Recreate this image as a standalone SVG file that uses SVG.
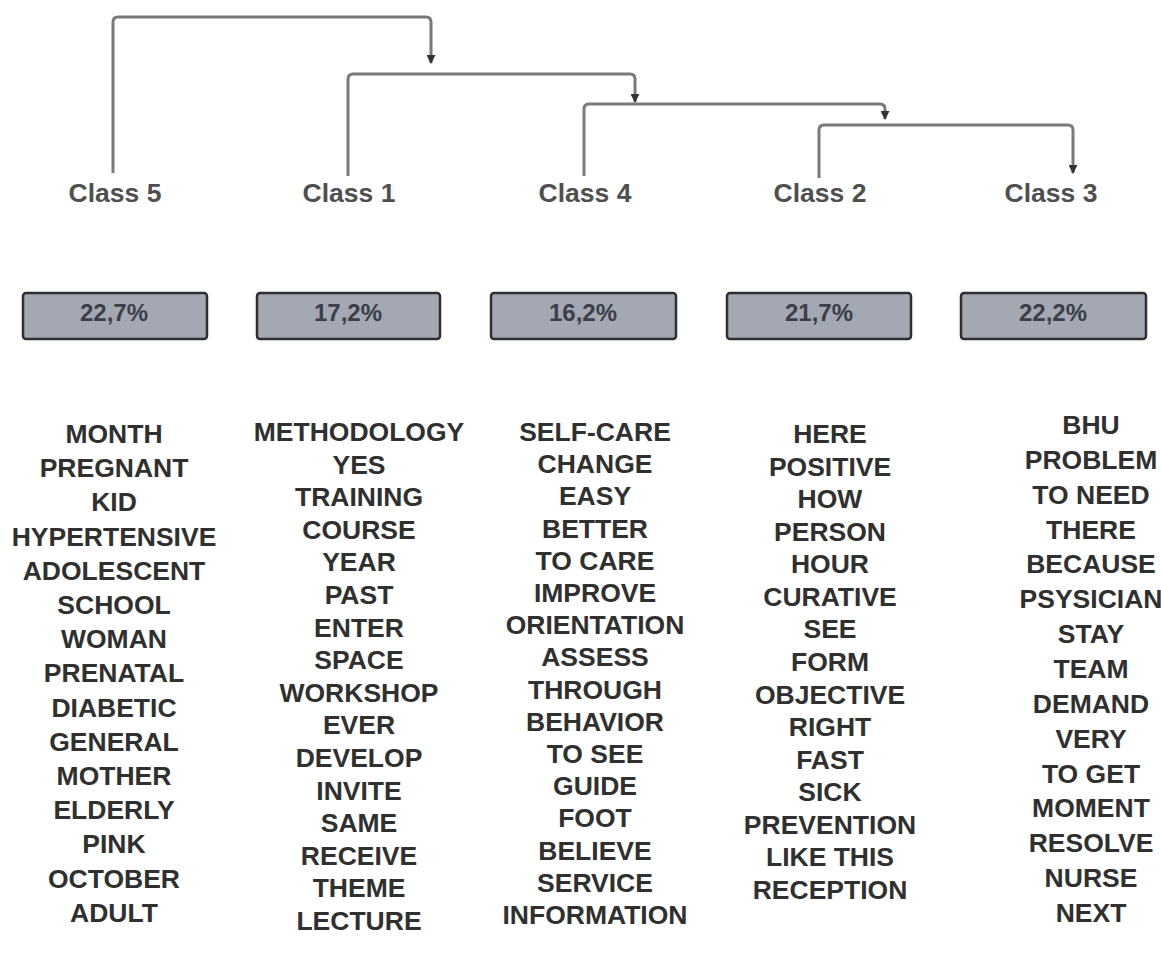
<svg xmlns="http://www.w3.org/2000/svg" width="1161" height="958" viewBox="0 0 1161 958">
<defs>
<marker id="arr" viewBox="0 0 10 10" refX="9" refY="5" markerWidth="3" markerHeight="3" orient="auto" markerUnits="strokeWidth">
<path d="M0,0 L10,5 L0,10 z" fill="#333"/>
</marker>
<style>
.conn{fill:none;stroke:#7a7a7a;stroke-width:3;}
.cls{font-family:"Liberation Sans",Arial,sans-serif;font-weight:bold;font-size:26.5px;fill:#4f4f4f;text-anchor:middle;}
.box{fill:#a3a8b3;stroke:#2f2f33;stroke-width:2.5;}
.pct{font-family:"Liberation Sans",Arial,sans-serif;font-weight:bold;font-size:24px;fill:#3a3f4a;text-anchor:middle;}
.w{font-family:"Liberation Sans",Arial,sans-serif;font-weight:bold;font-size:26.5px;fill:#303030;text-anchor:middle;}
</style>
</defs>
<rect width="1161" height="958" fill="#ffffff"/>
<g id="connectors">
<path class="conn" d="M113,173 L113,22 Q113,17 118,17 L426,17 Q431,17 431,22 L431,63" marker-end="url(#arr)"/>
<path class="conn" d="M348,176 L348,79 Q348,74 353,74 L630,74 Q635,74 635,79 L635,102" marker-end="url(#arr)"/>
<path class="conn" d="M584,176 L584,109 Q584,104 589,104 L880,104 Q885,104 885,109 L885,119" marker-end="url(#arr)"/>
<path class="conn" d="M819,178 L819,130 Q819,125 824,125 L1068,125 Q1073,125 1073,130 L1073,173" marker-end="url(#arr)"/>
</g>
<g id="class5">
<text class="cls" x="115" y="202">Class 5</text>
<rect class="box" x="23" y="293" width="184" height="46" rx="3"/>
<text class="pct" x="114" y="321">22,7%</text>
<text class="w" x="114" y="443"><tspan x="114">MONTH</tspan><tspan x="114" dy="34.2">PREGNANT</tspan><tspan x="114" dy="34.2">KID</tspan><tspan x="114" dy="34.2">HYPERTENSIVE</tspan><tspan x="114" dy="34.2">ADOLESCENT</tspan><tspan x="114" dy="34.2">SCHOOL</tspan><tspan x="114" dy="34.2">WOMAN</tspan><tspan x="114" dy="34.2">PRENATAL</tspan><tspan x="114" dy="34.2">DIABETIC</tspan><tspan x="114" dy="34.2">GENERAL</tspan><tspan x="114" dy="34.2">MOTHER</tspan><tspan x="114" dy="34.2">ELDERLY</tspan><tspan x="114" dy="34.2">PINK</tspan><tspan x="114" dy="34.2">OCTOBER</tspan><tspan x="114" dy="34.2">ADULT</tspan></text>
</g>
<g id="class1">
<text class="cls" x="349" y="202">Class 1</text>
<rect class="box" x="257" y="293" width="183" height="46" rx="3"/>
<text class="pct" x="348" y="321">17,2%</text>
<text class="w" x="359" y="441"><tspan x="359">METHODOLOGY</tspan><tspan x="359" dy="32.6">YES</tspan><tspan x="359" dy="32.6">TRAINING</tspan><tspan x="359" dy="32.6">COURSE</tspan><tspan x="359" dy="32.6">YEAR</tspan><tspan x="359" dy="32.6">PAST</tspan><tspan x="359" dy="32.6">ENTER</tspan><tspan x="359" dy="32.6">SPACE</tspan><tspan x="359" dy="32.6">WORKSHOP</tspan><tspan x="359" dy="32.6">EVER</tspan><tspan x="359" dy="32.6">DEVELOP</tspan><tspan x="359" dy="32.6">INVITE</tspan><tspan x="359" dy="32.6">SAME</tspan><tspan x="359" dy="32.6">RECEIVE</tspan><tspan x="359" dy="32.6">THEME</tspan><tspan x="359" dy="32.6">LECTURE</tspan></text>
</g>
<g id="class4">
<text class="cls" x="585" y="202">Class 4</text>
<rect class="box" x="491" y="293" width="185" height="46" rx="3"/>
<text class="pct" x="583" y="321">16,2%</text>
<text class="w" x="595" y="441"><tspan x="595">SELF-CARE</tspan><tspan x="595" dy="32.2">CHANGE</tspan><tspan x="595" dy="32.2">EASY</tspan><tspan x="595" dy="32.2">BETTER</tspan><tspan x="595" dy="32.2">TO CARE</tspan><tspan x="595" dy="32.2">IMPROVE</tspan><tspan x="595" dy="32.2">ORIENTATION</tspan><tspan x="595" dy="32.2">ASSESS</tspan><tspan x="595" dy="32.2">THROUGH</tspan><tspan x="595" dy="32.2">BEHAVIOR</tspan><tspan x="595" dy="32.2">TO SEE</tspan><tspan x="595" dy="32.2">GUIDE</tspan><tspan x="595" dy="32.2">FOOT</tspan><tspan x="595" dy="32.2">BELIEVE</tspan><tspan x="595" dy="32.2">SERVICE</tspan><tspan x="595" dy="32.2">INFORMATION</tspan></text>
</g>
<g id="class2">
<text class="cls" x="820" y="202">Class 2</text>
<rect class="box" x="727" y="293" width="184" height="46" rx="3"/>
<text class="pct" x="819" y="321">21,7%</text>
<text class="w" x="830" y="443"><tspan x="830">HERE</tspan><tspan x="830" dy="32.57">POSITIVE</tspan><tspan x="830" dy="32.57">HOW</tspan><tspan x="830" dy="32.57">PERSON</tspan><tspan x="830" dy="32.57">HOUR</tspan><tspan x="830" dy="32.57">CURATIVE</tspan><tspan x="830" dy="32.57">SEE</tspan><tspan x="830" dy="32.57">FORM</tspan><tspan x="830" dy="32.57">OBJECTIVE</tspan><tspan x="830" dy="32.57">RIGHT</tspan><tspan x="830" dy="32.57">FAST</tspan><tspan x="830" dy="32.57">SICK</tspan><tspan x="830" dy="32.57">PREVENTION</tspan><tspan x="830" dy="32.57">LIKE THIS</tspan><tspan x="830" dy="32.57">RECEPTION</tspan></text>
</g>
<g id="class3">
<text class="cls" x="1051" y="202">Class 3</text>
<rect class="box" x="961" y="293" width="185" height="46" rx="3"/>
<text class="pct" x="1053" y="321">22,2%</text>
<text class="w" x="1091" y="434"><tspan x="1091">BHU</tspan><tspan x="1091" dy="34.86">PROBLEM</tspan><tspan x="1091" dy="34.86">TO NEED</tspan><tspan x="1091" dy="34.86">THERE</tspan><tspan x="1091" dy="34.86">BECAUSE</tspan><tspan x="1091" dy="34.86">PSYSICIAN</tspan><tspan x="1091" dy="34.86">STAY</tspan><tspan x="1091" dy="34.86">TEAM</tspan><tspan x="1091" dy="34.86">DEMAND</tspan><tspan x="1091" dy="34.86">VERY</tspan><tspan x="1091" dy="34.86">TO GET</tspan><tspan x="1091" dy="34.86">MOMENT</tspan><tspan x="1091" dy="34.86">RESOLVE</tspan><tspan x="1091" dy="34.86">NURSE</tspan><tspan x="1091" dy="34.86">NEXT</tspan></text>
</g>
</svg>
